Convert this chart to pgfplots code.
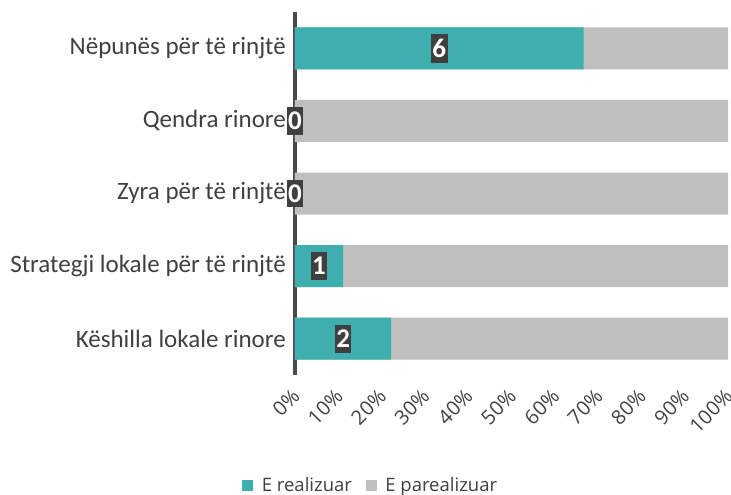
\documentclass[border=0pt]{standalone}
\usepackage{fontspec}
\setmainfont{Carlito}
\newfontfamily\osans{Open Sans}
\usepackage{pgfplots}
\usepackage{pgfplotstable}
\pgfplotsset{compat=1.18}
\definecolor{teal1}{HTML}{3EAFAE}
\definecolor{gray1}{HTML}{BFBFBF}
\definecolor{txt}{HTML}{404040}
\definecolor{axl}{HTML}{4A4A4A}
\definecolor{lbl}{HTML}{3F3F3F}

\pgfplotstableread{
idx real total count
0 22.22 100 2
1 11.11 100 1
2 0 100 0
3 0 100 0
4 66.67 100 6
}\data

\begin{document}
\begin{tikzpicture}
\useasboundingbox (-295bp,-120bp) rectangle (436bp,375bp);
\begin{axis}[
  at={(0,0)}, anchor=south west,
  scale only axis, width=433bp, height=363bp,
  xmin=0, xmax=100, ymin=-0.5, ymax=4.5,
  axis y line*=left, axis x line*=bottom,
  x axis line style={draw=none},
  y axis line style={line width=3.5bp, color=axl, -},
  xtick={0,10,...,100},
  /pgf/number format/assume math mode=true,
  xticklabel={\pgfmathprintnumber{\tick}\%},
  xtick style={draw=none}, ytick style={draw=none},
  xticklabel style={xshift=1bp, yshift=-18bp, rotate=45, anchor=east, inner sep=0pt, text=txt, font=\osans\fontsize{20bp}{24bp}\selectfont},
  ytick={0,1,2,3,4},
  yticklabels={Këshilla lokale rinore, Strategji lokale për të rinjtë, Zyra për të rinjtë, Qendra rinore, Nëpunës për të rinjtë},
  yticklabel style={font=\fontsize{25bp}{29bp}\selectfont, text=txt, inner sep=0pt, xshift=-9bp},
  legend columns=2,
  legend style={draw=none, at={(0.175,-0.303)}, anchor=center, font=\osans\fontsize{18.5bp}{22bp}\selectfont, text=txt,
    /tikz/every odd column/.append style={column sep=7bp},
    /tikz/every even column/.append style={column sep=12bp}},
  legend image code/.code={\fill[#1] (0bp,-5bp) rectangle (10bp,5bp);},
  clip=false,
]
\addplot[xbar, bar width=42bp, bar shift=0pt, fill=gray1, draw=none, forget plot] table[x=total, y=idx] {\data};
\addplot[xbar, bar width=42bp, bar shift=0pt, fill=teal1, draw=none, forget plot] table[x=real, y=idx] {\data};
\addplot[only marks, mark=none, forget plot,
  nodes near coords, point meta=explicit symbolic,
  every node near coord/.style={anchor=center, fill=lbl, text=white, inner xsep=1.5bp, inner ysep=5bp, font=\bfseries\fontsize{27bp}{29bp}\selectfont}]
  table[x expr=\thisrow{real}/2, y=idx, meta=count] {\data};
\addlegendimage{teal1}
\addlegendentry{E realizuar}
\addlegendimage{gray1}
\addlegendentry{E parealizuar}
\end{axis}
\end{tikzpicture}
\end{document}
